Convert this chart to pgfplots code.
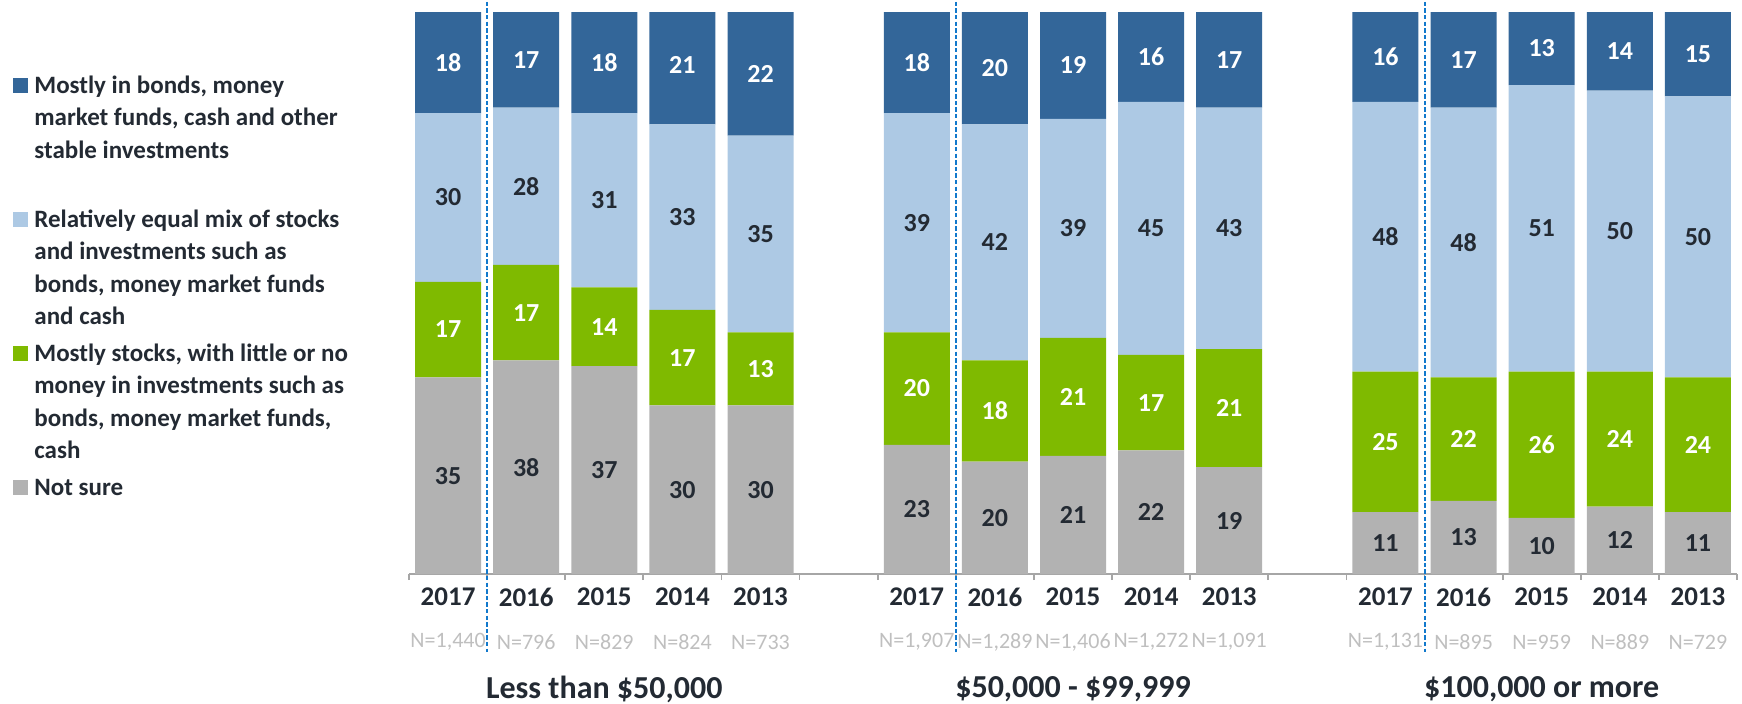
\documentclass[border=0pt]{standalone}
\usepackage{pgfplots}
\pgfplotsset{compat=1.18}
\usepackage{pgfplotstable}
\usepackage{fontspec}
\setmainfont{Carlito}
\definecolor{cBond}{HTML}{336699}
\definecolor{cMix}{HTML}{ADC9E4}
\definecolor{cStock}{HTML}{7FBA00}
\definecolor{cNS}{HTML}{B2B2B2}
\definecolor{cText}{HTML}{232A33}
\definecolor{cN}{HTML}{BFBFBF}
\definecolor{cAxis}{HTML}{A6A6A6}
\definecolor{cDash}{HTML}{1279CC}

\pgfplotstableread{
x ns st mix bd
0 35 17 30 18
1 38 17 28 17
2 37 14 31 18
3 30 17 33 21
4 30 13 35 22
6 23 20 39 18
7 20 18 42 20
8 21 21 39 19
9 22 17 45 16
10 19 21 43 17
12 11 25 48 16
13 13 22 48 17
14 10 26 51 13
15 12 24 50 14
16 11 24 50 15
}\data

% label positions (segment mid-points) -- dark text
\pgfplotstableread{
x y lab
0 17.5 35
1 19 38
2 18.5 37
3 15 30
4 15 30
6 11.5 23
7 10 20
8 10.5 21
9 11 22
10 9.5 19
12 5.5 11
13 6.5 13
14 5 10
15 6 12
16 5.5 11
0 67 30
1 69 28
2 66.5 31
3 63.5 33
4 60.5 35
6 62.5 39
7 59 42
8 61.5 39
9 61.5 45
10 61.5 43
12 60 48
13 59 48
14 61.5 51
15 61 50
16 60 50
}\darklab

% white text
\pgfplotstableread{
x y lab
0 43.5 17
1 46.5 17
2 44 14
3 38.5 17
4 36.5 13
6 33 20
7 29 18
8 31.5 21
9 30.5 17
10 29.5 21
12 23.5 25
13 24 22
14 23 26
15 24 24
16 23 24
0 91 18
1 91.5 17
2 91 18
3 90.5 21
4 89 22
6 91 18
7 90 20
8 90.5 19
9 92 16
10 91.5 17
12 92 16
13 91.5 17
14 93.5 13
15 93 14
16 92.5 15
}\whitelab

\begin{document}
\begin{tikzpicture}
\useasboundingbox (0pt,0pt) rectangle (871pt,-351.5pt);

\begin{axis}[
  at={(204.5pt,-287pt)}, anchor=south west,
  scale only axis, width=664pt, height=281pt,
  xmin=-0.5, xmax=16.5, ymin=0, ymax=100,
  enlargelimits=false,
  ybar stacked, bar width=33pt,
  axis x line*=bottom, axis y line=none,
  x axis line style={-, draw=cAxis, line width=0.9pt},
  xtick={-0.5,0.5,...,16.5}, xticklabels={},
  ytick=\empty,
  tick align=outside, major tick length=3pt,
  tick style={draw=cAxis, line width=0.9pt},
]
\addplot[fill=cNS, draw=none] table[x=x,y=ns]{\data};
\addplot[fill=cStock, draw=none] table[x=x,y=st]{\data};
\addplot[fill=cMix, draw=none] table[x=x,y=mix]{\data};
\addplot[fill=cBond, draw=none] table[x=x,y=bd]{\data};
\end{axis}

\begin{axis}[
  at={(204.5pt,-287pt)}, anchor=south west,
  scale only axis, width=664pt, height=281pt,
  xmin=-0.5, xmax=16.5, ymin=0, ymax=100,
  hide axis, clip=false,
]
\addplot[draw=none, mark=none, nodes near coords, point meta=explicit symbolic,
  nodes near coords style={anchor=center, inner sep=0pt, font=\fontsize{13}{15}\selectfont\bfseries, text=cText}]
  table[x=x,y=y,meta=lab]{\darklab};
\addplot[draw=none, mark=none, nodes near coords, point meta=explicit symbolic,
  nodes near coords style={anchor=center, inner sep=0pt, font=\fontsize{13}{15}\selectfont\bfseries, text=white}]
  table[x=x,y=y,meta=lab]{\whitelab};

\draw[cDash, line width=1pt, dash pattern=on 2.2pt off 1.1pt] (axis cs:0.5,101.8) -- (axis cs:0.5,-13.9);
\draw[cDash, line width=1pt, dash pattern=on 2.2pt off 1.1pt] (axis cs:6.5,101.8) -- (axis cs:6.5,-13.9);
\draw[cDash, line width=1pt, dash pattern=on 2.2pt off 1.1pt] (axis cs:12.5,101.8) -- (axis cs:12.5,-13.9);

\tikzset{yr/.style={anchor=center, inner sep=0pt, yshift=-11.5pt, font=\fontsize{13.5}{16}\selectfont\bfseries, text=cText},
         nn/.style={anchor=center, inner sep=0pt, yshift=-34pt, font=\fontsize{11}{13}\selectfont, text=cN},
         gt/.style={anchor=center, inner sep=0pt, yshift=-57.5pt, font=\fontsize{16}{19}\selectfont\bfseries, text=cText}}
\node[yr] at (axis cs:0,0) {2017};
\node[yr] at (axis cs:1,0) {2016};
\node[yr] at (axis cs:2,0) {2015};
\node[yr] at (axis cs:3,0) {2014};
\node[yr] at (axis cs:4,0) {2013};
\node[yr] at (axis cs:6,0) {2017};
\node[yr] at (axis cs:7,0) {2016};
\node[yr] at (axis cs:8,0) {2015};
\node[yr] at (axis cs:9,0) {2014};
\node[yr] at (axis cs:10,0) {2013};
\node[yr] at (axis cs:12,0) {2017};
\node[yr] at (axis cs:13,0) {2016};
\node[yr] at (axis cs:14,0) {2015};
\node[yr] at (axis cs:15,0) {2014};
\node[yr] at (axis cs:16,0) {2013};

\node[nn] at (axis cs:0,0) {N=1,440};
\node[nn] at (axis cs:1,0) {N=796};
\node[nn] at (axis cs:2,0) {N=829};
\node[nn] at (axis cs:3,0) {N=824};
\node[nn] at (axis cs:4,0) {N=733};
\node[nn] at (axis cs:6,0) {N=1,907};
\node[nn] at (axis cs:7,0) {N=1,289};
\node[nn] at (axis cs:8,0) {N=1,406};
\node[nn] at (axis cs:9,0) {N=1,272};
\node[nn] at (axis cs:10,0) {N=1,091};
\node[nn] at (axis cs:12,0) {N=1,131};
\node[nn] at (axis cs:13,0) {N=895};
\node[nn] at (axis cs:14,0) {N=959};
\node[nn] at (axis cs:15,0) {N=889};
\node[nn] at (axis cs:16,0) {N=729};

\node[gt] at (axis cs:2,0) {Less than \$50,000};
\node[gt] at (axis cs:8,0) {\$50,000 - \$99,999};
\node[gt] at (axis cs:14,0) {\$100,000 or more};
\end{axis}

% legend
\tikzset{lg/.style={anchor=base west, inner sep=0pt, font=\fontsize{12.5}{15}\selectfont\bfseries, text=cText}}
\fill[cBond] (6.5pt,-46.5pt) rectangle (14pt,-39pt);
\node[lg] at (17pt,-46.5pt) {Mostly in bonds, money};
\node[lg] at (17pt,-62.75pt) {market funds, cash and other};
\node[lg] at (17pt,-79pt) {stable investments};

\fill[cMix] (6.5pt,-113.5pt) rectangle (14pt,-106pt);
\node[lg] at (17pt,-113.5pt) {Relatively equal mix of stocks};
\node[lg] at (17pt,-129.75pt) {and investments such as};
\node[lg] at (17pt,-146pt) {bonds, money market funds};
\node[lg] at (17pt,-162.25pt) {and cash};

\fill[cStock] (6.5pt,-180.5pt) rectangle (14pt,-173pt);
\node[lg] at (17pt,-180.5pt) {Mostly stocks, with little or no};
\node[lg] at (17pt,-196.75pt) {money in investments such as};
\node[lg] at (17pt,-213pt) {bonds, money market funds,};
\node[lg] at (17pt,-229.25pt) {cash};

\fill[cNS] (6.5pt,-247.5pt) rectangle (14pt,-240pt);
\node[lg] at (17pt,-247.5pt) {Not sure};
\end{tikzpicture}
\end{document}
